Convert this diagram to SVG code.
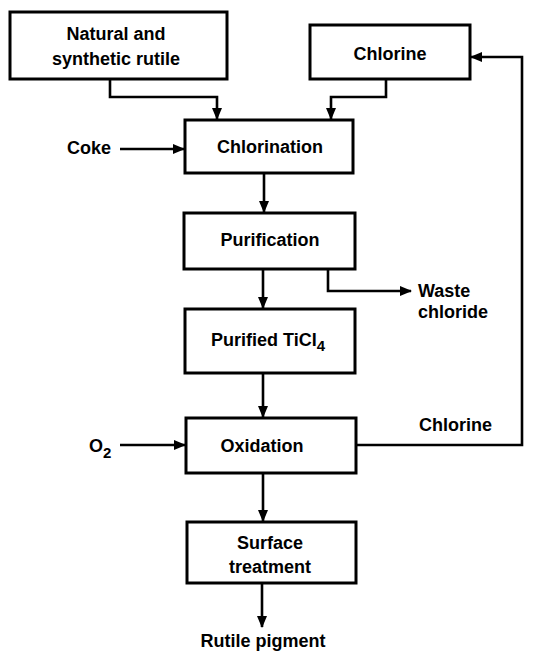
<svg xmlns="http://www.w3.org/2000/svg" width="543" height="653" viewBox="0 0 543 653">
<style>
.box{fill:#fff;stroke:#000;stroke-width:3}
.ln{fill:none;stroke:#000;stroke-width:2.6;stroke-linejoin:miter}
text{font-family:"Liberation Sans",Arial,sans-serif;font-weight:bold;font-size:18px;fill:#000}
.c{text-anchor:middle}
</style>
<defs>
<marker id="ah" viewBox="0 0 12 10" refX="11" refY="5" markerWidth="12" markerHeight="10" markerUnits="userSpaceOnUse" orient="auto">
<path d="M0,0 L12,5 L0,10 Z" fill="#000"/>
</marker>
</defs>
<rect width="543" height="653" fill="#fff"/>
<g id="connectors">
<path class="ln" d="M110,79 V97 H217 V119" marker-end="url(#ah)"/>
<path class="ln" d="M386,79 V97 H331 V119" marker-end="url(#ah)"/>
<path class="ln" d="M120,149 H184" marker-end="url(#ah)"/>
<path class="ln" d="M264,173 V212" marker-end="url(#ah)"/>
<path class="ln" d="M263,269 V308" marker-end="url(#ah)"/>
<path class="ln" d="M328,269 V291 H411" marker-end="url(#ah)"/>
<path class="ln" d="M263,373 V417" marker-end="url(#ah)"/>
<path class="ln" d="M120,445 H185" marker-end="url(#ah)"/>
<path class="ln" d="M356,445 H522 V57 H471" marker-end="url(#ah)"/>
<path class="ln" d="M263,473 V521" marker-end="url(#ah)"/>
<path class="ln" d="M262,583 V627" marker-end="url(#ah)"/>
</g>
<g id="rutile"><rect class="box" x="10" y="12" width="217" height="67"/>
<text class="c" x="116" y="40">Natural and</text><text class="c" x="116" y="65">synthetic rutile</text></g>
<g id="chlorine"><rect class="box" x="310" y="25" width="160" height="54"/>
<text class="c" x="390" y="60">Chlorine</text></g>
<g id="coke"><text class="c" x="89" y="154">Coke</text></g>
<g id="chlorination"><rect class="box" x="185" y="120" width="168" height="53"/>
<text class="c" x="270" y="153">Chlorination</text></g>
<g id="purification"><rect class="box" x="184" y="213" width="171" height="56"/>
<text class="c" x="270" y="246">Purification</text></g>
<g id="waste"><text x="418" y="297">Waste</text><text x="418" y="318">chloride</text></g>
<g id="ticl4"><rect class="box" x="185" y="309" width="170" height="64"/>
<text class="c" x="268" y="346">Purified TiCI<tspan font-size="15" dy="5">4</tspan></text></g>
<g id="chlorine-label"><text x="419" y="431">Chlorine</text></g>
<g id="o2"><text x="89" y="452">O<tspan font-size="15" dy="6">2</tspan></text></g>
<g id="oxidation"><rect class="box" x="186" y="418" width="170" height="55"/>
<text class="c" x="262" y="452">Oxidation</text></g>
<g id="surface"><rect class="box" x="187" y="522" width="169" height="61"/>
<text class="c" x="270" y="549">Surface</text><text class="c" x="270" y="573">treatment</text></g>
<g id="pigment"><text class="c" x="263" y="647">Rutile pigment</text></g>
</svg>
